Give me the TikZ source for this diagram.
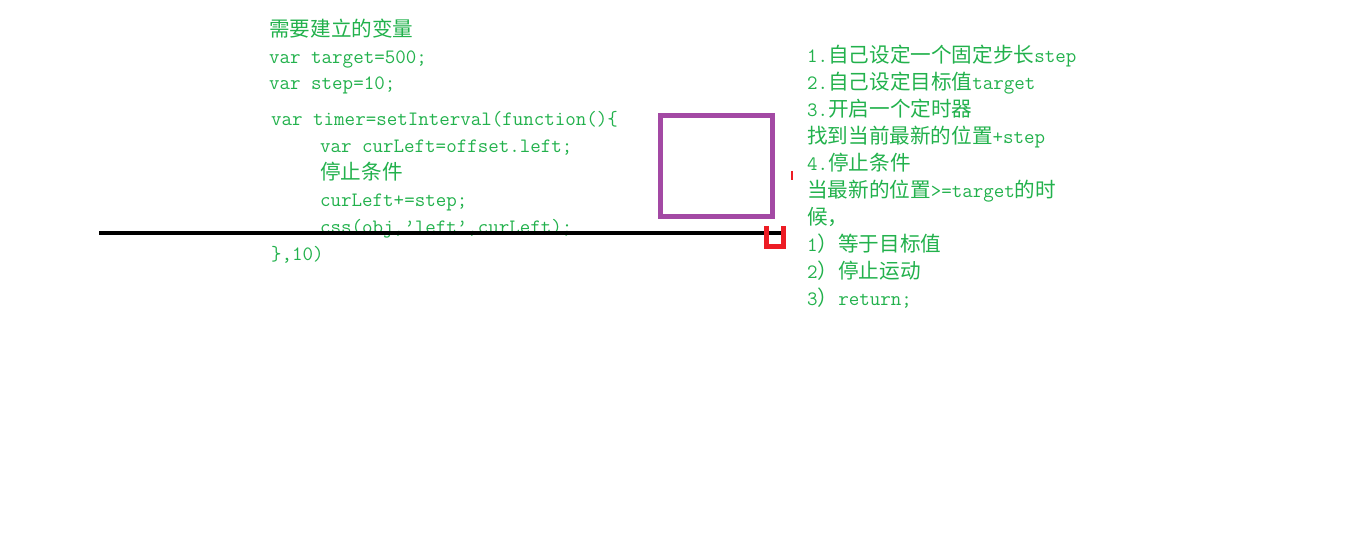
\documentclass[tikz,border=0pt]{standalone}
\usepackage{fontspec}
\newfontfamily\cjkfont[Scale=1.01]{Noto Sans CJK SC}
\usepackage{tikz}
\definecolor{codevert}{RGB}{34,177,76}
\definecolor{violet}{RGB}{163,73,164}
\definecolor{rouge}{RGB}{237,28,36}
\newcommand{\zh}[1]{{\cjkfont #1}}
\tikzset{
    bloc/.style={anchor=base west, inner sep=0pt, align=left, text=codevert,
        font=\ttfamily\fontsize{20.4}{26.9}\selectfont}
}

\begin{document}
\begin{tikzpicture}[x=1pt,y=-1pt]
            \useasboundingbox (0,0) rectangle (1360,540);

            % Variables (ancre sur la derniere ligne)
            \node[bloc] (vars) at (269,90) {\zh{需要建立的变量}\\var target=500;\\var step=10;};

            % Minuteur
            \node[bloc] (timer) at (271,260) {var timer=setInterval(function()\{\\
                \hspace*{49pt}var curLeft=offset.left;\\
                \hspace*{49pt}\zh{停止条件}\\
                \hspace*{49pt}curLeft+=step;\\
                \hspace*{49pt}css(obj,’left’,curLeft);\\
                \},10)};

            % Etapes
            \node[bloc] (etapes) at (807,305) {1.\zh{自己设定一个固定步长}step\\
                2.\zh{自己设定目标值}target\\
                3.\zh{开启一个定时器}\\
                \zh{找到当前最新的位置}+step\\
                4.\zh{停止条件}\\
                \zh{当最新的位置}>=target\zh{的时}\\
                \zh{候，}\\
                1\zh{）等于目标值}\\
                2\zh{）停止运动}\\
                3\zh{）}return;};

            % Ligne et boite
            \coordinate (L1) at (99,233);
            \coordinate (L2) at (781,233);
            \draw[line width=4pt] (L1) -- (L2);
            \draw[violet, line width=5pt] (660.5,115.5) rectangle (772.5,216.5);

            % Marque rouge
            \draw[rouge, line width=5pt] (766.5,226) -- (766.5,246.5) -- (783,246.5) -- (783,226);
            \draw[rouge, line width=1.5pt] (792,171) -- (792,180);
        \end{tikzpicture}
\end{document}
